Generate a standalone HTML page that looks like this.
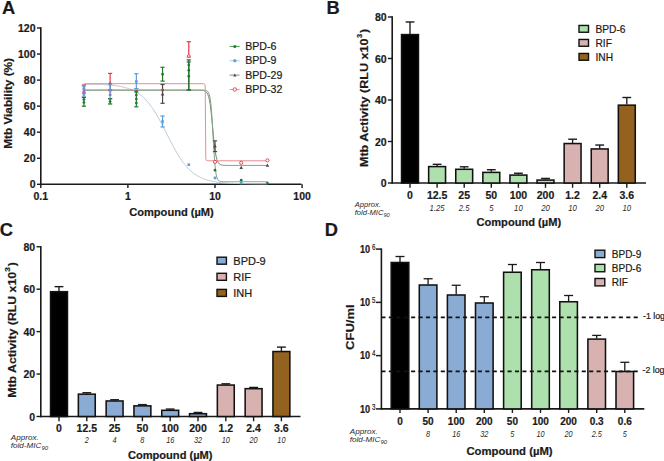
<!DOCTYPE html>
<html><head><meta charset="utf-8"><style>
html,body{margin:0;padding:0;background:#fff;}
svg{display:block;font-family:"Liberation Sans", sans-serif;}
text{stroke-width:0.2px;paint-order:stroke;}
text[font-style=italic]{stroke-width:0;}

</style></head><body>
<svg width="664" height="461" viewBox="0 0 664 461">
<rect width="664" height="461" fill="#fff"/>
<text x="2.10" y="13.80" font-size="18.3" font-weight="bold" font-style="normal" text-anchor="start" fill="#1a1a1a" stroke="#1a1a1a" >A</text>
<text x="326.60" y="14.00" font-size="18.3" font-weight="bold" font-style="normal" text-anchor="start" fill="#1a1a1a" stroke="#1a1a1a" >B</text>
<text x="-0.30" y="235.50" font-size="18.3" font-weight="bold" font-style="normal" text-anchor="start" fill="#1a1a1a" stroke="#1a1a1a" >C</text>
<text x="324.80" y="235.80" font-size="18.3" font-weight="bold" font-style="normal" text-anchor="start" fill="#1a1a1a" stroke="#1a1a1a" >D</text>
<line x1="40.80" y1="27.30" x2="40.80" y2="185.00" stroke="#1a1a1a" stroke-width="1.6" />
<line x1="40.00" y1="184.30" x2="301.50" y2="184.30" stroke="#1a1a1a" stroke-width="1.6" />
<line x1="37.00" y1="184.30" x2="40.80" y2="184.30" stroke="#1a1a1a" stroke-width="1.4" />
<text x="35.50" y="188.40" font-size="10.5" font-weight="bold" font-style="normal" text-anchor="end" fill="#1a1a1a" stroke="#1a1a1a" >0</text>
<line x1="37.00" y1="158.25" x2="40.80" y2="158.25" stroke="#1a1a1a" stroke-width="1.4" />
<text x="35.50" y="162.35" font-size="10.5" font-weight="bold" font-style="normal" text-anchor="end" fill="#1a1a1a" stroke="#1a1a1a" >20</text>
<line x1="37.00" y1="132.20" x2="40.80" y2="132.20" stroke="#1a1a1a" stroke-width="1.4" />
<text x="35.50" y="136.30" font-size="10.5" font-weight="bold" font-style="normal" text-anchor="end" fill="#1a1a1a" stroke="#1a1a1a" >40</text>
<line x1="37.00" y1="106.15" x2="40.80" y2="106.15" stroke="#1a1a1a" stroke-width="1.4" />
<text x="35.50" y="110.25" font-size="10.5" font-weight="bold" font-style="normal" text-anchor="end" fill="#1a1a1a" stroke="#1a1a1a" >60</text>
<line x1="37.00" y1="80.10" x2="40.80" y2="80.10" stroke="#1a1a1a" stroke-width="1.4" />
<text x="35.50" y="84.20" font-size="10.5" font-weight="bold" font-style="normal" text-anchor="end" fill="#1a1a1a" stroke="#1a1a1a" >80</text>
<line x1="37.00" y1="54.05" x2="40.80" y2="54.05" stroke="#1a1a1a" stroke-width="1.4" />
<text x="35.50" y="58.15" font-size="10.5" font-weight="bold" font-style="normal" text-anchor="end" fill="#1a1a1a" stroke="#1a1a1a" >100</text>
<line x1="37.00" y1="28.00" x2="40.80" y2="28.00" stroke="#1a1a1a" stroke-width="1.4" />
<text x="35.50" y="32.10" font-size="10.5" font-weight="bold" font-style="normal" text-anchor="end" fill="#1a1a1a" stroke="#1a1a1a" >120</text>
<line x1="40.80" y1="184.30" x2="40.80" y2="188.00" stroke="#1a1a1a" stroke-width="1.4" />
<text x="40.80" y="199.60" font-size="10.5" font-weight="bold" font-style="normal" text-anchor="middle" fill="#1a1a1a" stroke="#1a1a1a" >0.1</text>
<line x1="127.90" y1="184.30" x2="127.90" y2="188.00" stroke="#1a1a1a" stroke-width="1.4" />
<text x="127.90" y="199.60" font-size="10.5" font-weight="bold" font-style="normal" text-anchor="middle" fill="#1a1a1a" stroke="#1a1a1a" >1</text>
<line x1="215.00" y1="184.30" x2="215.00" y2="188.00" stroke="#1a1a1a" stroke-width="1.4" />
<text x="215.00" y="199.60" font-size="10.5" font-weight="bold" font-style="normal" text-anchor="middle" fill="#1a1a1a" stroke="#1a1a1a" >10</text>
<line x1="302.10" y1="184.30" x2="302.10" y2="188.00" stroke="#1a1a1a" stroke-width="1.4" />
<text x="302.10" y="199.60" font-size="10.5" font-weight="bold" font-style="normal" text-anchor="middle" fill="#1a1a1a" stroke="#1a1a1a" >100</text>
<text x="171.50" y="215.80" font-size="11.1" font-weight="bold" font-style="normal" text-anchor="middle" fill="#1a1a1a" stroke="#1a1a1a" >Compound (µM)</text>
<text transform="translate(12.0,103.4) rotate(-90) scale(1,0.86)" font-size="11.8" font-weight="bold" text-anchor="middle" fill="#1a1a1a" stroke="#1a1a1a">Mtb Viability (%)</text>
<path d="M83.90,84.15 L85.43,84.16 L86.96,84.18 L88.49,84.21 L90.02,84.23 L91.55,84.26 L93.08,84.29 L94.61,84.33 L96.14,84.37 L97.67,84.42 L99.20,84.47 L100.73,84.53 L102.26,84.60 L103.78,84.68 L105.31,84.76 L106.84,84.86 L108.37,84.97 L109.90,85.09 L111.43,85.23 L112.96,85.38 L114.49,85.55 L116.02,85.75 L117.55,85.97 L119.08,86.22 L120.61,86.50 L122.14,86.81 L123.67,87.16 L125.20,87.55 L126.73,87.99 L128.26,88.48 L129.79,89.03 L131.32,89.64 L132.84,90.32 L134.37,91.07 L135.90,91.91 L137.43,92.84 L138.96,93.87 L140.49,95.00 L142.02,96.25 L143.55,97.61 L145.08,99.10 L146.61,100.72 L148.14,102.48 L149.67,104.37 L151.20,106.41 L152.73,108.59 L154.26,110.91 L155.79,113.35 L157.32,115.93 L158.85,118.62 L160.38,121.41 L161.91,124.29 L163.43,127.24 L164.96,130.23 L166.49,133.26 L168.02,136.29 L169.55,139.30 L171.08,142.27 L172.61,145.18 L174.14,148.02 L175.67,150.75 L177.20,153.38 L178.73,155.89 L180.26,158.27 L181.79,160.52 L183.32,162.62 L184.85,164.58 L186.38,166.40 L187.91,168.08 L189.44,169.63 L190.97,171.05 L192.49,172.35 L194.02,173.54 L195.55,174.61 L197.08,175.58 L198.61,176.46 L200.14,177.26 L201.67,177.97 L203.20,178.62 L204.73,179.19 L206.26,179.71 L207.79,180.17 L209.32,180.58 L210.85,180.95 L212.38,181.28 L213.91,181.57 L215.44,181.83 L216.97,182.07 L218.50,182.27 L220.03,182.46 L221.55,182.62 L223.08,182.77 L224.61,182.90 L226.14,183.01 L227.67,183.11 L229.20,183.20 L230.73,183.28 L232.26,183.35 L233.79,183.42 L235.32,183.47 L236.85,183.52 L238.38,183.57 L239.91,183.61 L241.44,183.64 L242.97,183.67 L244.50,183.70 L246.03,183.72 L247.56,183.74 L249.09,183.76 L250.62,183.78 L252.14,183.79 L253.67,183.81 L255.20,183.82 L256.73,183.83 L258.26,183.84 L259.79,183.85 L261.32,183.85 L262.85,183.86 L264.38,183.87 L265.91,183.87 L267.44,183.87" fill="none" stroke="#bccbdb" stroke-width="1.0"/>
<path d="M83.90,90.13 L84.67,90.13 L85.43,90.13 L86.20,90.13 L86.96,90.13 L87.73,90.13 L88.49,90.13 L89.25,90.13 L90.02,90.13 L90.78,90.13 L91.55,90.13 L92.31,90.13 L93.08,90.13 L93.84,90.13 L94.61,90.13 L95.37,90.13 L96.14,90.13 L96.90,90.13 L97.67,90.13 L98.43,90.13 L99.20,90.13 L99.96,90.13 L100.73,90.13 L101.49,90.13 L102.26,90.13 L103.02,90.13 L103.78,90.13 L104.55,90.13 L105.31,90.13 L106.08,90.13 L106.84,90.13 L107.61,90.13 L108.37,90.13 L109.14,90.13 L109.90,90.13 L110.67,90.13 L111.43,90.13 L112.20,90.13 L112.96,90.13 L113.73,90.13 L114.49,90.13 L115.26,90.13 L116.02,90.13 L116.79,90.13 L117.55,90.13 L118.31,90.13 L119.08,90.13 L119.84,90.13 L120.61,90.13 L121.37,90.13 L122.14,90.13 L122.90,90.13 L123.67,90.13 L124.43,90.13 L125.20,90.13 L125.96,90.13 L126.73,90.13 L127.49,90.13 L128.26,90.13 L129.02,90.13 L129.79,90.13 L130.55,90.13 L131.32,90.13 L132.08,90.13 L132.84,90.13 L133.61,90.13 L134.37,90.13 L135.14,90.13 L135.90,90.13 L136.67,90.13 L137.43,90.13 L138.20,90.13 L138.96,90.13 L139.73,90.13 L140.49,90.13 L141.26,90.13 L142.02,90.13 L142.79,90.13 L143.55,90.13 L144.32,90.13 L145.08,90.13 L145.85,90.13 L146.61,90.13 L147.37,90.13 L148.14,90.13 L148.90,90.13 L149.67,90.13 L150.43,90.13 L151.20,90.13 L151.96,90.13 L152.73,90.13 L153.49,90.13 L154.26,90.13 L155.02,90.13 L155.79,90.13 L156.55,90.13 L157.32,90.13 L158.08,90.13 L158.85,90.13 L159.61,90.13 L160.38,90.13 L161.14,90.13 L161.91,90.13 L162.67,90.13 L163.43,90.13 L164.20,90.13 L164.96,90.13 L165.73,90.13 L166.49,90.13 L167.26,90.13 L168.02,90.13 L168.79,90.13 L169.55,90.13 L170.32,90.13 L171.08,90.13 L171.85,90.13 L172.61,90.13 L173.38,90.13 L174.14,90.13 L174.91,90.13 L175.67,90.13 L176.44,90.13 L177.20,90.13 L177.96,90.13 L178.73,90.13 L179.49,90.13 L180.26,90.13 L181.02,90.13 L181.79,90.13 L182.55,90.13 L183.32,90.13 L184.08,90.13 L184.85,90.13 L185.61,90.13 L186.38,90.13 L187.14,90.13 L187.91,90.13 L188.67,90.13 L189.44,90.13 L190.20,90.13 L190.97,90.13 L191.73,90.13 L192.49,90.13 L193.26,90.13 L194.02,90.13 L194.79,90.13 L195.55,90.13 L196.32,90.13 L197.08,90.14 L197.85,90.14 L198.61,90.15 L199.38,90.16 L200.14,90.18 L200.91,90.21 L201.67,90.26 L202.44,90.33 L203.20,90.44 L203.97,90.61 L204.73,90.87 L205.50,91.28 L206.26,91.91 L207.02,92.87 L207.79,94.32 L208.55,96.46 L209.32,99.57 L210.08,103.89 L210.85,109.60 L211.61,116.66 L212.38,124.70 L213.14,133.03 L213.91,140.86 L214.67,147.59 L215.44,152.93 L216.20,156.90 L216.97,159.73 L217.73,161.67 L218.50,162.97 L219.26,163.83 L220.03,164.39 L220.79,164.75 L221.55,164.99 L222.32,165.14 L223.08,165.24 L223.85,165.30 L224.61,165.34 L225.38,165.37 L226.14,165.38 L226.91,165.39 L227.67,165.40 L228.44,165.41 L229.20,165.41 L229.97,165.41 L230.73,165.41 L231.50,165.41 L232.26,165.41 L233.03,165.41 L233.79,165.41 L234.56,165.41 L235.32,165.41 L236.09,165.41 L236.85,165.41 L237.61,165.41 L238.38,165.41 L239.14,165.41 L239.91,165.41 L240.67,165.41 L241.44,165.41 L242.20,165.41 L242.97,165.41 L243.73,165.41 L244.50,165.41 L245.26,165.41 L246.03,165.41 L246.79,165.41 L247.56,165.41 L248.32,165.41 L249.09,165.41 L249.85,165.41 L250.62,165.41 L251.38,165.41 L252.14,165.41 L252.91,165.41 L253.67,165.41 L254.44,165.41 L255.20,165.41 L255.97,165.41 L256.73,165.41 L257.50,165.41 L258.26,165.41 L259.03,165.41 L259.79,165.41 L260.56,165.41 L261.32,165.41 L262.09,165.41 L262.85,165.41 L263.62,165.41 L264.38,165.41 L265.15,165.41 L265.91,165.41 L266.67,165.41 L267.44,165.41" fill="none" stroke="#808080" stroke-width="1.0"/>
<path d="M83.90,90.13 L84.67,90.13 L85.43,90.13 L86.20,90.13 L86.96,90.13 L87.73,90.13 L88.49,90.13 L89.25,90.13 L90.02,90.13 L90.78,90.13 L91.55,90.13 L92.31,90.13 L93.08,90.13 L93.84,90.13 L94.61,90.13 L95.37,90.13 L96.14,90.13 L96.90,90.13 L97.67,90.13 L98.43,90.13 L99.20,90.13 L99.96,90.13 L100.73,90.13 L101.49,90.13 L102.26,90.13 L103.02,90.13 L103.78,90.13 L104.55,90.13 L105.31,90.13 L106.08,90.13 L106.84,90.13 L107.61,90.13 L108.37,90.13 L109.14,90.13 L109.90,90.13 L110.67,90.13 L111.43,90.13 L112.20,90.13 L112.96,90.13 L113.73,90.13 L114.49,90.13 L115.26,90.13 L116.02,90.13 L116.79,90.13 L117.55,90.13 L118.31,90.13 L119.08,90.13 L119.84,90.13 L120.61,90.13 L121.37,90.13 L122.14,90.13 L122.90,90.13 L123.67,90.13 L124.43,90.13 L125.20,90.13 L125.96,90.13 L126.73,90.13 L127.49,90.13 L128.26,90.13 L129.02,90.13 L129.79,90.13 L130.55,90.13 L131.32,90.13 L132.08,90.13 L132.84,90.13 L133.61,90.13 L134.37,90.13 L135.14,90.13 L135.90,90.13 L136.67,90.13 L137.43,90.13 L138.20,90.13 L138.96,90.13 L139.73,90.13 L140.49,90.13 L141.26,90.13 L142.02,90.13 L142.79,90.13 L143.55,90.13 L144.32,90.13 L145.08,90.13 L145.85,90.13 L146.61,90.13 L147.37,90.13 L148.14,90.13 L148.90,90.13 L149.67,90.13 L150.43,90.13 L151.20,90.13 L151.96,90.13 L152.73,90.13 L153.49,90.13 L154.26,90.13 L155.02,90.13 L155.79,90.13 L156.55,90.13 L157.32,90.13 L158.08,90.13 L158.85,90.13 L159.61,90.13 L160.38,90.13 L161.14,90.13 L161.91,90.13 L162.67,90.13 L163.43,90.13 L164.20,90.13 L164.96,90.13 L165.73,90.13 L166.49,90.13 L167.26,90.13 L168.02,90.13 L168.79,90.13 L169.55,90.13 L170.32,90.13 L171.08,90.13 L171.85,90.13 L172.61,90.13 L173.38,90.13 L174.14,90.13 L174.91,90.13 L175.67,90.13 L176.44,90.13 L177.20,90.13 L177.96,90.13 L178.73,90.13 L179.49,90.13 L180.26,90.13 L181.02,90.13 L181.79,90.13 L182.55,90.13 L183.32,90.13 L184.08,90.13 L184.85,90.13 L185.61,90.13 L186.38,90.13 L187.14,90.13 L187.91,90.13 L188.67,90.13 L189.44,90.13 L190.20,90.13 L190.97,90.13 L191.73,90.13 L192.49,90.13 L193.26,90.13 L194.02,90.13 L194.79,90.13 L195.55,90.13 L196.32,90.13 L197.08,90.13 L197.85,90.13 L198.61,90.13 L199.38,90.13 L200.14,90.13 L200.91,90.14 L201.67,90.14 L202.44,90.15 L203.20,90.17 L203.97,90.20 L204.73,90.25 L205.50,90.36 L206.26,90.54 L207.02,90.89 L207.79,91.51 L208.55,92.63 L209.32,94.61 L210.08,98.03 L210.85,103.64 L211.61,112.20 L212.38,123.83 L213.14,137.42 L213.91,150.75 L214.67,161.76 L215.44,169.63 L216.20,174.70 L216.97,177.74 L217.73,179.50 L218.50,180.48 L219.26,181.03 L220.03,181.33 L220.79,181.50 L221.55,181.59 L222.32,181.64 L223.08,181.66 L223.85,181.68 L224.61,181.69 L225.38,181.69 L226.14,181.69 L226.91,181.69 L227.67,181.69 L228.44,181.69 L229.20,181.69 L229.97,181.69 L230.73,181.69 L231.50,181.69 L232.26,181.69 L233.03,181.69 L233.79,181.69 L234.56,181.69 L235.32,181.69 L236.09,181.69 L236.85,181.69 L237.61,181.69 L238.38,181.69 L239.14,181.69 L239.91,181.69 L240.67,181.69 L241.44,181.69 L242.20,181.69 L242.97,181.69 L243.73,181.69 L244.50,181.69 L245.26,181.69 L246.03,181.69 L246.79,181.69 L247.56,181.69 L248.32,181.69 L249.09,181.69 L249.85,181.69 L250.62,181.69 L251.38,181.69 L252.14,181.69 L252.91,181.69 L253.67,181.69 L254.44,181.69 L255.20,181.69 L255.97,181.69 L256.73,181.69 L257.50,181.69 L258.26,181.69 L259.03,181.69 L259.79,181.69 L260.56,181.69 L261.32,181.70 L262.09,181.70 L262.85,181.70 L263.62,181.70 L264.38,181.70 L265.15,181.70 L265.91,181.70 L266.67,181.70 L267.44,181.70" fill="none" stroke="#7fa57f" stroke-width="1.0"/>
<path d="M84.3,83.7 L203.3,83.7 Q205.2,83.7 205.2,85.8 L205.8,158.8 Q205.8,160.8 207.8,160.8 L267.8,160.8" fill="none" stroke="#ec8a8a" stroke-width="1.0"/>
<line x1="83.90" y1="85.00" x2="83.90" y2="93.00" stroke="#e03a44" stroke-width="1.2" />
<line x1="81.80" y1="85.00" x2="86.00" y2="85.00" stroke="#e03a44" stroke-width="1.2" />
<line x1="81.80" y1="93.00" x2="86.00" y2="93.00" stroke="#e03a44" stroke-width="1.2" />
<circle cx="83.90" cy="89.00" r="1.3" fill="#c85060"/>
<line x1="83.90" y1="86.00" x2="83.90" y2="97.00" stroke="#5b9be0" stroke-width="1.2" />
<line x1="81.80" y1="86.00" x2="86.00" y2="86.00" stroke="#5b9be0" stroke-width="1.2" />
<line x1="81.80" y1="97.00" x2="86.00" y2="97.00" stroke="#5b9be0" stroke-width="1.2" />
<rect x="82.60" y="87.20" width="2.6" height="2.6" fill="#5b9be0"/>
<rect x="82.60" y="93.20" width="2.6" height="2.6" fill="#5b9be0"/>
<circle cx="83.90" cy="91.60" r="1.5" fill="#a070b0"/>
<line x1="83.90" y1="97.50" x2="83.90" y2="106.20" stroke="#1f7a2a" stroke-width="1.2" />
<line x1="81.80" y1="97.50" x2="86.00" y2="97.50" stroke="#1f7a2a" stroke-width="1.2" />
<line x1="81.80" y1="106.20" x2="86.00" y2="106.20" stroke="#1f7a2a" stroke-width="1.2" />
<circle cx="83.90" cy="99.50" r="1.35" fill="#1f7a2a"/>
<circle cx="83.90" cy="102.50" r="1.35" fill="#1f7a2a"/>
<line x1="110.12" y1="73.40" x2="110.12" y2="90.00" stroke="#e03a44" stroke-width="1.2" />
<line x1="108.02" y1="73.40" x2="112.22" y2="73.40" stroke="#e03a44" stroke-width="1.2" />
<line x1="108.02" y1="90.00" x2="112.22" y2="90.00" stroke="#e03a44" stroke-width="1.2" />
<circle cx="110.12" cy="83.80" r="1.5" fill="#8a5050"/>
<line x1="110.12" y1="84.00" x2="110.12" y2="98.70" stroke="#5b9be0" stroke-width="1.2" />
<line x1="108.02" y1="84.00" x2="112.22" y2="84.00" stroke="#5b9be0" stroke-width="1.2" />
<line x1="108.02" y1="98.70" x2="112.22" y2="98.70" stroke="#5b9be0" stroke-width="1.2" />
<rect x="108.82" y="89.90" width="2.6" height="2.6" fill="#5b9be0"/>
<circle cx="110.12" cy="94.80" r="1.5" fill="#a070b0"/>
<line x1="110.12" y1="98.70" x2="110.12" y2="104.00" stroke="#1f7a2a" stroke-width="1.2" />
<line x1="108.02" y1="98.70" x2="112.22" y2="98.70" stroke="#1f7a2a" stroke-width="1.2" />
<line x1="108.02" y1="104.00" x2="112.22" y2="104.00" stroke="#1f7a2a" stroke-width="1.2" />
<circle cx="110.12" cy="101.60" r="1.35" fill="#1f7a2a"/>
<line x1="136.34" y1="73.70" x2="136.34" y2="88.60" stroke="#5b9be0" stroke-width="1.2" />
<line x1="134.24" y1="73.70" x2="138.44" y2="73.70" stroke="#5b9be0" stroke-width="1.2" />
<line x1="134.24" y1="88.60" x2="138.44" y2="88.60" stroke="#5b9be0" stroke-width="1.2" />
<rect x="135.04" y="80.20" width="2.6" height="2.6" fill="#5b9be0"/>
<circle cx="136.34" cy="91.20" r="1.4" fill="#c04050"/>
<line x1="136.34" y1="92.00" x2="136.34" y2="106.80" stroke="#1f7a2a" stroke-width="1.2" />
<line x1="134.24" y1="92.00" x2="138.44" y2="92.00" stroke="#1f7a2a" stroke-width="1.2" />
<line x1="134.24" y1="106.80" x2="138.44" y2="106.80" stroke="#1f7a2a" stroke-width="1.2" />
<circle cx="136.34" cy="95.00" r="1.35" fill="#1f7a2a"/>
<circle cx="136.34" cy="99.00" r="1.35" fill="#1f7a2a"/>
<circle cx="136.34" cy="103.00" r="1.35" fill="#1f7a2a"/>
<line x1="162.56" y1="67.30" x2="162.56" y2="81.10" stroke="#1f7a2a" stroke-width="1.2" />
<line x1="160.46" y1="67.30" x2="164.66" y2="67.30" stroke="#1f7a2a" stroke-width="1.2" />
<line x1="160.46" y1="81.10" x2="164.66" y2="81.10" stroke="#1f7a2a" stroke-width="1.2" />
<circle cx="162.56" cy="74.20" r="1.35" fill="#1f7a2a"/>
<line x1="162.56" y1="84.50" x2="162.56" y2="103.30" stroke="#4a4a4a" stroke-width="1.2" />
<line x1="160.46" y1="84.50" x2="164.66" y2="84.50" stroke="#4a4a4a" stroke-width="1.2" />
<line x1="160.46" y1="103.30" x2="164.66" y2="103.30" stroke="#4a4a4a" stroke-width="1.2" />
<circle cx="162.56" cy="90.00" r="1.5" fill="#b04a4a"/>
<path d="M162.56,92.20 L164.36,95.44 L160.76,95.44 Z" fill="#4a4a4a"/>
<line x1="162.56" y1="116.00" x2="162.56" y2="127.00" stroke="#5b9be0" stroke-width="1.2" />
<line x1="160.46" y1="116.00" x2="164.66" y2="116.00" stroke="#5b9be0" stroke-width="1.2" />
<line x1="160.46" y1="127.00" x2="164.66" y2="127.00" stroke="#5b9be0" stroke-width="1.2" />
<rect x="161.26" y="120.20" width="2.6" height="2.6" fill="#5b9be0"/>
<line x1="188.78" y1="41.70" x2="188.78" y2="57.00" stroke="#e03a44" stroke-width="1.2" />
<line x1="186.68" y1="41.70" x2="190.88" y2="41.70" stroke="#e03a44" stroke-width="1.2" />
<line x1="186.68" y1="57.00" x2="190.88" y2="57.00" stroke="#e03a44" stroke-width="1.2" />
<circle cx="188.78" cy="56.00" r="1.3" fill="white" stroke="#e03a44" stroke-width="0.9"/>
<line x1="188.78" y1="59.90" x2="188.78" y2="90.00" stroke="#4a4a4a" stroke-width="1.2" />
<line x1="186.68" y1="59.90" x2="190.88" y2="59.90" stroke="#4a4a4a" stroke-width="1.2" />
<line x1="186.68" y1="90.00" x2="190.88" y2="90.00" stroke="#4a4a4a" stroke-width="1.2" />
<line x1="188.78" y1="62.00" x2="188.78" y2="90.00" stroke="#1f7a2a" stroke-width="1.2" />
<line x1="186.68" y1="62.00" x2="190.88" y2="62.00" stroke="#1f7a2a" stroke-width="1.2" />
<line x1="186.68" y1="90.00" x2="190.88" y2="90.00" stroke="#1f7a2a" stroke-width="1.2" />
<circle cx="188.78" cy="65.00" r="1.35" fill="#1f7a2a"/>
<circle cx="188.78" cy="70.30" r="1.35" fill="#1f7a2a"/>
<circle cx="188.78" cy="76.20" r="1.35" fill="#1f7a2a"/>
<rect x="187.48" y="163.40" width="2.6" height="2.6" fill="#5b9be0"/>
<line x1="215.00" y1="140.90" x2="215.00" y2="151.60" stroke="#4a4a4a" stroke-width="1.2" />
<line x1="212.90" y1="140.90" x2="217.10" y2="140.90" stroke="#4a4a4a" stroke-width="1.2" />
<line x1="212.90" y1="151.60" x2="217.10" y2="151.60" stroke="#4a4a4a" stroke-width="1.2" />
<path d="M215.00,144.20 L216.80,147.44 L213.20,147.44 Z" fill="#4a4a4a"/>
<circle cx="215.00" cy="161.90" r="1.6" fill="white" stroke="#e03a44" stroke-width="0.9"/>
<circle cx="215.00" cy="170.20" r="1.35" fill="#1f7a2a"/>
<rect x="213.70" y="176.60" width="2.6" height="2.6" fill="#5b9be0"/>
<circle cx="241.22" cy="162.80" r="1.6" fill="white" stroke="#e03a44" stroke-width="0.9"/>
<path d="M241.22,165.80 L243.02,169.04 L239.42,169.04 Z" fill="#4a4a4a"/>
<circle cx="241.22" cy="180.20" r="1.35" fill="#1f7a2a"/>
<rect x="239.92" y="181.70" width="2.6" height="2.6" fill="#5b9be0"/>
<circle cx="267.44" cy="160.40" r="1.6" fill="white" stroke="#e03a44" stroke-width="0.9"/>
<path d="M267.44,163.40 L269.24,166.64 L265.64,166.64 Z" fill="#4a4a4a"/>
<circle cx="267.44" cy="183.10" r="1.35" fill="#1f7a2a"/>
<line x1="229.60" y1="46.40" x2="239.60" y2="46.40" stroke="#4a9a50" stroke-width="1.0" />
<circle cx="234.80" cy="46.40" r="1.5" fill="#1f7a2a"/>
<text x="245.20" y="50.10" font-size="10.6" font-weight="normal" font-style="normal" text-anchor="start" fill="#1a1a1a" stroke="#1a1a1a" >BPD-6</text>
<line x1="229.60" y1="60.75" x2="239.60" y2="60.75" stroke="#a9c9ea" stroke-width="1.0" />
<rect x="233.40" y="59.35" width="2.8" height="2.8" fill="#5b9be0"/>
<text x="245.20" y="64.45" font-size="10.6" font-weight="normal" font-style="normal" text-anchor="start" fill="#1a1a1a" stroke="#1a1a1a" >BPD-9</text>
<line x1="229.60" y1="75.10" x2="239.60" y2="75.10" stroke="#888" stroke-width="1.0" />
<path d="M234.80,73.50 L236.40,76.38 L233.20,76.38 Z" fill="#4a4a4a"/>
<text x="245.20" y="78.80" font-size="10.6" font-weight="normal" font-style="normal" text-anchor="start" fill="#1a1a1a" stroke="#1a1a1a" >BPD-29</text>
<line x1="229.60" y1="89.45" x2="239.60" y2="89.45" stroke="#ee8888" stroke-width="1.0" />
<circle cx="234.80" cy="89.45" r="1.7" fill="white" stroke="#e03a44" stroke-width="0.9"/>
<text x="245.20" y="93.15" font-size="10.6" font-weight="normal" font-style="normal" text-anchor="start" fill="#1a1a1a" stroke="#1a1a1a" >BPD-32</text>
<line x1="392.20" y1="16.30" x2="392.20" y2="183.80" stroke="#1a1a1a" stroke-width="1.6" />
<line x1="391.50" y1="183.00" x2="646.00" y2="183.00" stroke="#1a1a1a" stroke-width="1.6" />
<line x1="387.90" y1="183.00" x2="392.20" y2="183.00" stroke="#1a1a1a" stroke-width="1.4" />
<text x="386.60" y="187.10" font-size="10.5" font-weight="bold" font-style="normal" text-anchor="end" fill="#1a1a1a" stroke="#1a1a1a" >0</text>
<line x1="387.90" y1="141.50" x2="392.20" y2="141.50" stroke="#1a1a1a" stroke-width="1.4" />
<text x="386.60" y="145.60" font-size="10.5" font-weight="bold" font-style="normal" text-anchor="end" fill="#1a1a1a" stroke="#1a1a1a" >20</text>
<line x1="387.90" y1="100.00" x2="392.20" y2="100.00" stroke="#1a1a1a" stroke-width="1.4" />
<text x="386.60" y="104.10" font-size="10.5" font-weight="bold" font-style="normal" text-anchor="end" fill="#1a1a1a" stroke="#1a1a1a" >40</text>
<line x1="387.90" y1="58.50" x2="392.20" y2="58.50" stroke="#1a1a1a" stroke-width="1.4" />
<text x="386.60" y="62.60" font-size="10.5" font-weight="bold" font-style="normal" text-anchor="end" fill="#1a1a1a" stroke="#1a1a1a" >60</text>
<line x1="387.90" y1="17.00" x2="392.20" y2="17.00" stroke="#1a1a1a" stroke-width="1.4" />
<text x="386.60" y="21.10" font-size="10.5" font-weight="bold" font-style="normal" text-anchor="end" fill="#1a1a1a" stroke="#1a1a1a" >80</text>
<line x1="410.00" y1="34.01" x2="410.00" y2="21.98" stroke="#1a1a1a" stroke-width="1.35" />
<line x1="405.60" y1="21.98" x2="414.40" y2="21.98" stroke="#1a1a1a" stroke-width="1.4" />
<rect x="401.55" y="34.61" width="16.90" height="148.39" fill="#000" stroke="#111" stroke-width="1.55"/>
<line x1="410.00" y1="183.00" x2="410.00" y2="187.80" stroke="#1a1a1a" stroke-width="1.4" />
<text x="410.00" y="198.80" font-size="10.5" font-weight="bold" font-style="normal" text-anchor="middle" fill="#1a1a1a" stroke="#1a1a1a" >0</text>
<text transform="translate(410.00,211.40) scale(0.9,1)" font-size="8.6" font-style="italic" text-anchor="middle" fill="#2a2a2a" stroke="#2a2a2a"></text>
<line x1="437.10" y1="165.99" x2="437.10" y2="164.32" stroke="#1a1a1a" stroke-width="1.35" />
<line x1="432.70" y1="164.32" x2="441.50" y2="164.32" stroke="#1a1a1a" stroke-width="1.4" />
<rect x="428.65" y="166.59" width="16.90" height="16.41" fill="#aee0ad" stroke="#111" stroke-width="1.55"/>
<line x1="437.10" y1="183.00" x2="437.10" y2="187.80" stroke="#1a1a1a" stroke-width="1.4" />
<text x="437.10" y="198.80" font-size="10.5" font-weight="bold" font-style="normal" text-anchor="middle" fill="#1a1a1a" stroke="#1a1a1a" >12.5</text>
<text transform="translate(437.10,211.40) scale(0.9,1)" font-size="8.6" font-style="italic" text-anchor="middle" fill="#2a2a2a" stroke="#2a2a2a">1.25</text>
<line x1="464.20" y1="168.68" x2="464.20" y2="166.81" stroke="#1a1a1a" stroke-width="1.35" />
<line x1="459.80" y1="166.81" x2="468.60" y2="166.81" stroke="#1a1a1a" stroke-width="1.4" />
<rect x="455.75" y="169.28" width="16.90" height="13.72" fill="#aee0ad" stroke="#111" stroke-width="1.55"/>
<line x1="464.20" y1="183.00" x2="464.20" y2="187.80" stroke="#1a1a1a" stroke-width="1.4" />
<text x="464.20" y="198.80" font-size="10.5" font-weight="bold" font-style="normal" text-anchor="middle" fill="#1a1a1a" stroke="#1a1a1a" >25</text>
<text transform="translate(464.20,211.40) scale(0.9,1)" font-size="8.6" font-style="italic" text-anchor="middle" fill="#2a2a2a" stroke="#2a2a2a">2.5</text>
<line x1="491.30" y1="171.79" x2="491.30" y2="169.72" stroke="#1a1a1a" stroke-width="1.35" />
<line x1="486.90" y1="169.72" x2="495.70" y2="169.72" stroke="#1a1a1a" stroke-width="1.4" />
<rect x="482.85" y="172.39" width="16.90" height="10.61" fill="#aee0ad" stroke="#111" stroke-width="1.55"/>
<line x1="491.30" y1="183.00" x2="491.30" y2="187.80" stroke="#1a1a1a" stroke-width="1.4" />
<text x="491.30" y="198.80" font-size="10.5" font-weight="bold" font-style="normal" text-anchor="middle" fill="#1a1a1a" stroke="#1a1a1a" >50</text>
<text transform="translate(491.30,211.40) scale(0.9,1)" font-size="8.6" font-style="italic" text-anchor="middle" fill="#2a2a2a" stroke="#2a2a2a">5</text>
<line x1="518.40" y1="174.49" x2="518.40" y2="173.25" stroke="#1a1a1a" stroke-width="1.35" />
<line x1="514.00" y1="173.25" x2="522.80" y2="173.25" stroke="#1a1a1a" stroke-width="1.4" />
<rect x="509.95" y="175.09" width="16.90" height="7.91" fill="#aee0ad" stroke="#111" stroke-width="1.55"/>
<line x1="518.40" y1="183.00" x2="518.40" y2="187.80" stroke="#1a1a1a" stroke-width="1.4" />
<text x="518.40" y="198.80" font-size="10.5" font-weight="bold" font-style="normal" text-anchor="middle" fill="#1a1a1a" stroke="#1a1a1a" >100</text>
<text transform="translate(518.40,211.40) scale(0.9,1)" font-size="8.6" font-style="italic" text-anchor="middle" fill="#2a2a2a" stroke="#2a2a2a">10</text>
<line x1="545.50" y1="179.47" x2="545.50" y2="178.44" stroke="#1a1a1a" stroke-width="1.35" />
<line x1="541.10" y1="178.44" x2="549.90" y2="178.44" stroke="#1a1a1a" stroke-width="1.4" />
<rect x="537.05" y="180.07" width="16.90" height="2.93" fill="#aee0ad" stroke="#111" stroke-width="1.55"/>
<line x1="545.50" y1="183.00" x2="545.50" y2="187.80" stroke="#1a1a1a" stroke-width="1.4" />
<text x="545.50" y="198.80" font-size="10.5" font-weight="bold" font-style="normal" text-anchor="middle" fill="#1a1a1a" stroke="#1a1a1a" >200</text>
<text transform="translate(545.50,211.40) scale(0.9,1)" font-size="8.6" font-style="italic" text-anchor="middle" fill="#2a2a2a" stroke="#2a2a2a">20</text>
<line x1="572.60" y1="142.95" x2="572.60" y2="139.22" stroke="#1a1a1a" stroke-width="1.35" />
<line x1="568.20" y1="139.22" x2="577.00" y2="139.22" stroke="#1a1a1a" stroke-width="1.4" />
<rect x="564.15" y="143.55" width="16.90" height="39.45" fill="#d8b2b0" stroke="#111" stroke-width="1.55"/>
<line x1="572.60" y1="183.00" x2="572.60" y2="187.80" stroke="#1a1a1a" stroke-width="1.4" />
<text x="572.60" y="198.80" font-size="10.5" font-weight="bold" font-style="normal" text-anchor="middle" fill="#1a1a1a" stroke="#1a1a1a" >1.2</text>
<text transform="translate(572.60,211.40) scale(0.9,1)" font-size="8.6" font-style="italic" text-anchor="middle" fill="#2a2a2a" stroke="#2a2a2a">10</text>
<line x1="599.70" y1="148.35" x2="599.70" y2="145.03" stroke="#1a1a1a" stroke-width="1.35" />
<line x1="595.30" y1="145.03" x2="604.10" y2="145.03" stroke="#1a1a1a" stroke-width="1.4" />
<rect x="591.25" y="148.95" width="16.90" height="34.05" fill="#d8b2b0" stroke="#111" stroke-width="1.55"/>
<line x1="599.70" y1="183.00" x2="599.70" y2="187.80" stroke="#1a1a1a" stroke-width="1.4" />
<text x="599.70" y="198.80" font-size="10.5" font-weight="bold" font-style="normal" text-anchor="middle" fill="#1a1a1a" stroke="#1a1a1a" >2.4</text>
<text transform="translate(599.70,211.40) scale(0.9,1)" font-size="8.6" font-style="italic" text-anchor="middle" fill="#2a2a2a" stroke="#2a2a2a">20</text>
<line x1="626.80" y1="104.56" x2="626.80" y2="97.51" stroke="#1a1a1a" stroke-width="1.35" />
<line x1="622.40" y1="97.51" x2="631.20" y2="97.51" stroke="#1a1a1a" stroke-width="1.4" />
<rect x="618.35" y="105.16" width="16.90" height="77.84" fill="#94621f" stroke="#111" stroke-width="1.55"/>
<line x1="626.80" y1="183.00" x2="626.80" y2="187.80" stroke="#1a1a1a" stroke-width="1.4" />
<text x="626.80" y="198.80" font-size="10.5" font-weight="bold" font-style="normal" text-anchor="middle" fill="#1a1a1a" stroke="#1a1a1a" >3.6</text>
<text transform="translate(626.80,211.40) scale(0.9,1)" font-size="8.6" font-style="italic" text-anchor="middle" fill="#2a2a2a" stroke="#2a2a2a">10</text>
<text x="518.80" y="226.40" font-size="11.1" font-weight="bold" font-style="normal" text-anchor="middle" fill="#1a1a1a" stroke="#1a1a1a" >Compound (µM)</text>
<line x1="40.80" y1="246.05" x2="40.80" y2="417.30" stroke="#1a1a1a" stroke-width="1.6" />
<line x1="40.10" y1="416.50" x2="300.50" y2="416.50" stroke="#1a1a1a" stroke-width="1.6" />
<line x1="36.50" y1="416.50" x2="40.80" y2="416.50" stroke="#1a1a1a" stroke-width="1.4" />
<text x="35.20" y="420.60" font-size="10.5" font-weight="bold" font-style="normal" text-anchor="end" fill="#1a1a1a" stroke="#1a1a1a" >0</text>
<line x1="36.50" y1="374.06" x2="40.80" y2="374.06" stroke="#1a1a1a" stroke-width="1.4" />
<text x="35.20" y="378.16" font-size="10.5" font-weight="bold" font-style="normal" text-anchor="end" fill="#1a1a1a" stroke="#1a1a1a" >20</text>
<line x1="36.50" y1="331.62" x2="40.80" y2="331.62" stroke="#1a1a1a" stroke-width="1.4" />
<text x="35.20" y="335.73" font-size="10.5" font-weight="bold" font-style="normal" text-anchor="end" fill="#1a1a1a" stroke="#1a1a1a" >40</text>
<line x1="36.50" y1="289.19" x2="40.80" y2="289.19" stroke="#1a1a1a" stroke-width="1.4" />
<text x="35.20" y="293.29" font-size="10.5" font-weight="bold" font-style="normal" text-anchor="end" fill="#1a1a1a" stroke="#1a1a1a" >60</text>
<line x1="36.50" y1="246.75" x2="40.80" y2="246.75" stroke="#1a1a1a" stroke-width="1.4" />
<text x="35.20" y="250.85" font-size="10.5" font-weight="bold" font-style="normal" text-anchor="end" fill="#1a1a1a" stroke="#1a1a1a" >80</text>
<line x1="59.00" y1="291.10" x2="59.00" y2="286.64" stroke="#1a1a1a" stroke-width="1.35" />
<line x1="54.60" y1="286.64" x2="63.40" y2="286.64" stroke="#1a1a1a" stroke-width="1.4" />
<rect x="50.55" y="291.70" width="16.90" height="124.80" fill="#000" stroke="#111" stroke-width="1.55"/>
<line x1="59.00" y1="416.50" x2="59.00" y2="421.30" stroke="#1a1a1a" stroke-width="1.4" />
<text x="59.00" y="432.30" font-size="10.5" font-weight="bold" font-style="normal" text-anchor="middle" fill="#1a1a1a" stroke="#1a1a1a" >0</text>
<text transform="translate(59.00,443.10) scale(0.85,1)" font-size="8.6" font-style="italic" text-anchor="middle" fill="#2a2a2a" stroke="#2a2a2a"></text>
<line x1="86.80" y1="393.58" x2="86.80" y2="392.74" stroke="#1a1a1a" stroke-width="1.35" />
<line x1="82.40" y1="392.74" x2="91.20" y2="392.74" stroke="#1a1a1a" stroke-width="1.4" />
<rect x="78.35" y="394.18" width="16.90" height="22.32" fill="#8aabd4" stroke="#111" stroke-width="1.55"/>
<line x1="86.80" y1="416.50" x2="86.80" y2="421.30" stroke="#1a1a1a" stroke-width="1.4" />
<text x="86.80" y="432.30" font-size="10.5" font-weight="bold" font-style="normal" text-anchor="middle" fill="#1a1a1a" stroke="#1a1a1a" >12.5</text>
<text transform="translate(86.80,443.10) scale(0.85,1)" font-size="8.6" font-style="italic" text-anchor="middle" fill="#2a2a2a" stroke="#2a2a2a">2</text>
<line x1="114.60" y1="400.37" x2="114.60" y2="399.74" stroke="#1a1a1a" stroke-width="1.35" />
<line x1="110.20" y1="399.74" x2="119.00" y2="399.74" stroke="#1a1a1a" stroke-width="1.4" />
<rect x="106.15" y="400.97" width="16.90" height="15.53" fill="#8aabd4" stroke="#111" stroke-width="1.55"/>
<line x1="114.60" y1="416.50" x2="114.60" y2="421.30" stroke="#1a1a1a" stroke-width="1.4" />
<text x="114.60" y="432.30" font-size="10.5" font-weight="bold" font-style="normal" text-anchor="middle" fill="#1a1a1a" stroke="#1a1a1a" >25</text>
<text transform="translate(114.60,443.10) scale(0.85,1)" font-size="8.6" font-style="italic" text-anchor="middle" fill="#2a2a2a" stroke="#2a2a2a">4</text>
<line x1="142.40" y1="405.25" x2="142.40" y2="404.62" stroke="#1a1a1a" stroke-width="1.35" />
<line x1="138.00" y1="404.62" x2="146.80" y2="404.62" stroke="#1a1a1a" stroke-width="1.4" />
<rect x="133.95" y="405.85" width="16.90" height="10.65" fill="#8aabd4" stroke="#111" stroke-width="1.55"/>
<line x1="142.40" y1="416.50" x2="142.40" y2="421.30" stroke="#1a1a1a" stroke-width="1.4" />
<text x="142.40" y="432.30" font-size="10.5" font-weight="bold" font-style="normal" text-anchor="middle" fill="#1a1a1a" stroke="#1a1a1a" >50</text>
<text transform="translate(142.40,443.10) scale(0.85,1)" font-size="8.6" font-style="italic" text-anchor="middle" fill="#2a2a2a" stroke="#2a2a2a">8</text>
<line x1="170.20" y1="409.71" x2="170.20" y2="409.07" stroke="#1a1a1a" stroke-width="1.35" />
<line x1="165.80" y1="409.07" x2="174.60" y2="409.07" stroke="#1a1a1a" stroke-width="1.4" />
<rect x="161.75" y="410.31" width="16.90" height="6.19" fill="#8aabd4" stroke="#111" stroke-width="1.55"/>
<line x1="170.20" y1="416.50" x2="170.20" y2="421.30" stroke="#1a1a1a" stroke-width="1.4" />
<text x="170.20" y="432.30" font-size="10.5" font-weight="bold" font-style="normal" text-anchor="middle" fill="#1a1a1a" stroke="#1a1a1a" >100</text>
<text transform="translate(170.20,443.10) scale(0.85,1)" font-size="8.6" font-style="italic" text-anchor="middle" fill="#2a2a2a" stroke="#2a2a2a">16</text>
<line x1="198.00" y1="413.11" x2="198.00" y2="412.47" stroke="#1a1a1a" stroke-width="1.35" />
<line x1="193.60" y1="412.47" x2="202.40" y2="412.47" stroke="#1a1a1a" stroke-width="1.4" />
<rect x="189.55" y="413.71" width="16.90" height="2.79" fill="#8aabd4" stroke="#111" stroke-width="1.55"/>
<line x1="198.00" y1="416.50" x2="198.00" y2="421.30" stroke="#1a1a1a" stroke-width="1.4" />
<text x="198.00" y="432.30" font-size="10.5" font-weight="bold" font-style="normal" text-anchor="middle" fill="#1a1a1a" stroke="#1a1a1a" >200</text>
<text transform="translate(198.00,443.10) scale(0.85,1)" font-size="8.6" font-style="italic" text-anchor="middle" fill="#2a2a2a" stroke="#2a2a2a">32</text>
<line x1="225.80" y1="384.46" x2="225.80" y2="383.82" stroke="#1a1a1a" stroke-width="1.35" />
<line x1="221.40" y1="383.82" x2="230.20" y2="383.82" stroke="#1a1a1a" stroke-width="1.4" />
<rect x="217.35" y="385.06" width="16.90" height="31.44" fill="#d8b2b0" stroke="#111" stroke-width="1.55"/>
<line x1="225.80" y1="416.50" x2="225.80" y2="421.30" stroke="#1a1a1a" stroke-width="1.4" />
<text x="225.80" y="432.30" font-size="10.5" font-weight="bold" font-style="normal" text-anchor="middle" fill="#1a1a1a" stroke="#1a1a1a" >1.2</text>
<text transform="translate(225.80,443.10) scale(0.85,1)" font-size="8.6" font-style="italic" text-anchor="middle" fill="#2a2a2a" stroke="#2a2a2a">10</text>
<line x1="253.60" y1="388.07" x2="253.60" y2="387.43" stroke="#1a1a1a" stroke-width="1.35" />
<line x1="249.20" y1="387.43" x2="258.00" y2="387.43" stroke="#1a1a1a" stroke-width="1.4" />
<rect x="245.15" y="388.67" width="16.90" height="27.83" fill="#d8b2b0" stroke="#111" stroke-width="1.55"/>
<line x1="253.60" y1="416.50" x2="253.60" y2="421.30" stroke="#1a1a1a" stroke-width="1.4" />
<text x="253.60" y="432.30" font-size="10.5" font-weight="bold" font-style="normal" text-anchor="middle" fill="#1a1a1a" stroke="#1a1a1a" >2.4</text>
<text transform="translate(253.60,443.10) scale(0.85,1)" font-size="8.6" font-style="italic" text-anchor="middle" fill="#2a2a2a" stroke="#2a2a2a">20</text>
<line x1="281.40" y1="350.93" x2="281.40" y2="347.11" stroke="#1a1a1a" stroke-width="1.35" />
<line x1="277.00" y1="347.11" x2="285.80" y2="347.11" stroke="#1a1a1a" stroke-width="1.4" />
<rect x="272.95" y="351.53" width="16.90" height="64.97" fill="#94621f" stroke="#111" stroke-width="1.55"/>
<line x1="281.40" y1="416.50" x2="281.40" y2="421.30" stroke="#1a1a1a" stroke-width="1.4" />
<text x="281.40" y="432.30" font-size="10.5" font-weight="bold" font-style="normal" text-anchor="middle" fill="#1a1a1a" stroke="#1a1a1a" >3.6</text>
<text transform="translate(281.40,443.10) scale(0.85,1)" font-size="8.6" font-style="italic" text-anchor="middle" fill="#2a2a2a" stroke="#2a2a2a">10</text>
<text x="170.20" y="458.60" font-size="11.1" font-weight="bold" font-style="normal" text-anchor="middle" fill="#1a1a1a" stroke="#1a1a1a" >Compound (µM)</text>
<text transform="translate(368.0,97.9) rotate(-90) scale(1,0.93)" font-size="12.55" font-weight="bold" text-anchor="middle" fill="#1a1a1a" stroke="#1a1a1a">Mtb Activity (RLU x10<tspan font-size="7.6" dy="-6.45" dx="0.5">3</tspan><tspan dy="6.45" dx="0.9">)</tspan></text>
<text transform="translate(16.4,330.0) rotate(-90) scale(1,0.93)" font-size="12.3" font-weight="bold" text-anchor="middle" fill="#1a1a1a" stroke="#1a1a1a">Mtb Activity (RLU x10<tspan font-size="8.3" dy="-7.1" dx="0.3">3</tspan><tspan dy="7.1" dx="0.7">)</tspan></text>
<text x="354.7" y="206.9" font-size="7.6" font-style="italic" fill="#2a2a2a" stroke="#2a2a2a">Approx.</text>
<text x="354.7" y="214.7" font-size="7.6" font-style="italic" fill="#2a2a2a" stroke="#2a2a2a">fold-MIC<tspan font-size="5.62" dy="2">90</tspan></text>
<text x="10.8" y="440.2" font-size="8.1" font-style="italic" fill="#2a2a2a" stroke="#2a2a2a">Approx.</text>
<text x="10.8" y="448.2" font-size="8.1" font-style="italic" fill="#2a2a2a" stroke="#2a2a2a">fold-MIC<tspan font-size="5.99" dy="2">90</tspan></text>
<text x="349.8" y="433.8" font-size="8.1" font-style="italic" fill="#2a2a2a" stroke="#2a2a2a">Approx.</text>
<text x="349.8" y="442.4" font-size="8.1" font-style="italic" fill="#2a2a2a" stroke="#2a2a2a">fold-MIC<tspan font-size="5.99" dy="2">90</tspan></text>
<rect x="579.00" y="25.45" width="9.50" height="6.80" fill="#aee0ad" stroke="#111" stroke-width="1.4"/>
<text x="595.50" y="32.52" font-size="10.2" font-weight="normal" font-style="normal" text-anchor="start" fill="#1a1a1a" stroke="#1a1a1a" >BPD-6</text>
<rect x="579.00" y="39.45" width="9.50" height="6.80" fill="#d8b2b0" stroke="#111" stroke-width="1.4"/>
<text x="595.50" y="46.52" font-size="10.2" font-weight="normal" font-style="normal" text-anchor="start" fill="#1a1a1a" stroke="#1a1a1a" >RIF</text>
<rect x="579.00" y="53.45" width="9.50" height="6.80" fill="#94621f" stroke="#111" stroke-width="1.4"/>
<text x="595.50" y="60.52" font-size="10.2" font-weight="normal" font-style="normal" text-anchor="start" fill="#1a1a1a" stroke="#1a1a1a" >INH</text>
<rect x="217.00" y="257.20" width="9.40" height="7.00" fill="#8aabd4" stroke="#111" stroke-width="1.4"/>
<text x="233.30" y="264.66" font-size="11.0" font-weight="normal" font-style="normal" text-anchor="start" fill="#1a1a1a" stroke="#1a1a1a" >BPD-9</text>
<rect x="217.00" y="273.30" width="9.40" height="7.00" fill="#d8b2b0" stroke="#111" stroke-width="1.4"/>
<text x="233.30" y="280.76" font-size="11.0" font-weight="normal" font-style="normal" text-anchor="start" fill="#1a1a1a" stroke="#1a1a1a" >RIF</text>
<rect x="217.00" y="289.40" width="9.40" height="7.00" fill="#94621f" stroke="#111" stroke-width="1.4"/>
<text x="233.30" y="296.86" font-size="11.0" font-weight="normal" font-style="normal" text-anchor="start" fill="#1a1a1a" stroke="#1a1a1a" >INH</text>
<line x1="381.40" y1="248.40" x2="381.40" y2="409.70" stroke="#1a1a1a" stroke-width="1.6" />
<line x1="380.70" y1="408.90" x2="644.30" y2="408.90" stroke="#1a1a1a" stroke-width="1.6" />
<line x1="375.90" y1="408.90" x2="381.40" y2="408.90" stroke="#1a1a1a" stroke-width="1.5" />
<text transform="translate(370.10,412.60) scale(0.88,1)" font-size="10.4" font-weight="bold" text-anchor="end" fill="#1a1a1a" stroke="#1a1a1a">10</text>
<text transform="translate(372.00,409.50) scale(0.72,1)" font-size="8.6" font-weight="normal" text-anchor="start" fill="#1a1a1a" stroke="#1a1a1a">3</text>
<line x1="375.90" y1="355.63" x2="381.40" y2="355.63" stroke="#1a1a1a" stroke-width="1.5" />
<text transform="translate(370.10,359.33) scale(0.88,1)" font-size="10.4" font-weight="bold" text-anchor="end" fill="#1a1a1a" stroke="#1a1a1a">10</text>
<text transform="translate(372.00,356.23) scale(0.72,1)" font-size="8.6" font-weight="normal" text-anchor="start" fill="#1a1a1a" stroke="#1a1a1a">4</text>
<line x1="375.90" y1="302.37" x2="381.40" y2="302.37" stroke="#1a1a1a" stroke-width="1.5" />
<text transform="translate(370.10,306.07) scale(0.88,1)" font-size="10.4" font-weight="bold" text-anchor="end" fill="#1a1a1a" stroke="#1a1a1a">10</text>
<text transform="translate(372.00,302.97) scale(0.72,1)" font-size="8.6" font-weight="normal" text-anchor="start" fill="#1a1a1a" stroke="#1a1a1a">5</text>
<line x1="375.90" y1="249.10" x2="381.40" y2="249.10" stroke="#1a1a1a" stroke-width="1.5" />
<text transform="translate(370.10,252.80) scale(0.88,1)" font-size="10.4" font-weight="bold" text-anchor="end" fill="#1a1a1a" stroke="#1a1a1a">10</text>
<text transform="translate(372.00,249.70) scale(0.72,1)" font-size="8.6" font-weight="normal" text-anchor="start" fill="#1a1a1a" stroke="#1a1a1a">6</text>
<line x1="400.00" y1="262.00" x2="400.00" y2="256.50" stroke="#1a1a1a" stroke-width="1.3" />
<line x1="395.50" y1="256.50" x2="404.50" y2="256.50" stroke="#1a1a1a" stroke-width="1.3" />
<rect x="391.20" y="262.50" width="17.60" height="146.40" fill="#000" stroke="#111" stroke-width="1.55"/>
<line x1="400.00" y1="408.90" x2="400.00" y2="412.90" stroke="#1a1a1a" stroke-width="1.4" />
<text x="400.00" y="424.80" font-size="10.0" font-weight="bold" font-style="normal" text-anchor="middle" fill="#1a1a1a" stroke="#1a1a1a" >0</text>
<text transform="translate(400.00,437.30) scale(0.85,1)" font-size="8.6" font-style="italic" text-anchor="middle" fill="#2a2a2a" stroke="#2a2a2a"></text>
<line x1="428.10" y1="284.50" x2="428.10" y2="278.75" stroke="#1a1a1a" stroke-width="1.3" />
<line x1="423.60" y1="278.75" x2="432.60" y2="278.75" stroke="#1a1a1a" stroke-width="1.3" />
<rect x="419.30" y="285.00" width="17.60" height="123.90" fill="#8aabd4" stroke="#111" stroke-width="1.55"/>
<line x1="428.10" y1="408.90" x2="428.10" y2="412.90" stroke="#1a1a1a" stroke-width="1.4" />
<text x="428.10" y="424.80" font-size="10.0" font-weight="bold" font-style="normal" text-anchor="middle" fill="#1a1a1a" stroke="#1a1a1a" >50</text>
<text transform="translate(428.10,437.30) scale(0.85,1)" font-size="8.6" font-style="italic" text-anchor="middle" fill="#2a2a2a" stroke="#2a2a2a">8</text>
<line x1="456.20" y1="294.50" x2="456.20" y2="285.25" stroke="#1a1a1a" stroke-width="1.3" />
<line x1="451.70" y1="285.25" x2="460.70" y2="285.25" stroke="#1a1a1a" stroke-width="1.3" />
<rect x="447.40" y="295.00" width="17.60" height="113.90" fill="#8aabd4" stroke="#111" stroke-width="1.55"/>
<line x1="456.20" y1="408.90" x2="456.20" y2="412.90" stroke="#1a1a1a" stroke-width="1.4" />
<text x="456.20" y="424.80" font-size="10.0" font-weight="bold" font-style="normal" text-anchor="middle" fill="#1a1a1a" stroke="#1a1a1a" >100</text>
<text transform="translate(456.20,437.30) scale(0.85,1)" font-size="8.6" font-style="italic" text-anchor="middle" fill="#2a2a2a" stroke="#2a2a2a">16</text>
<line x1="484.30" y1="302.50" x2="484.30" y2="296.75" stroke="#1a1a1a" stroke-width="1.3" />
<line x1="479.80" y1="296.75" x2="488.80" y2="296.75" stroke="#1a1a1a" stroke-width="1.3" />
<rect x="475.50" y="303.00" width="17.60" height="105.90" fill="#8aabd4" stroke="#111" stroke-width="1.55"/>
<line x1="484.30" y1="408.90" x2="484.30" y2="412.90" stroke="#1a1a1a" stroke-width="1.4" />
<text x="484.30" y="424.80" font-size="10.0" font-weight="bold" font-style="normal" text-anchor="middle" fill="#1a1a1a" stroke="#1a1a1a" >200</text>
<text transform="translate(484.30,437.30) scale(0.85,1)" font-size="8.6" font-style="italic" text-anchor="middle" fill="#2a2a2a" stroke="#2a2a2a">32</text>
<line x1="512.40" y1="271.75" x2="512.40" y2="264.50" stroke="#1a1a1a" stroke-width="1.3" />
<line x1="507.90" y1="264.50" x2="516.90" y2="264.50" stroke="#1a1a1a" stroke-width="1.3" />
<rect x="503.60" y="272.25" width="17.60" height="136.65" fill="#aee0ad" stroke="#111" stroke-width="1.55"/>
<line x1="512.40" y1="408.90" x2="512.40" y2="412.90" stroke="#1a1a1a" stroke-width="1.4" />
<text x="512.40" y="424.80" font-size="10.0" font-weight="bold" font-style="normal" text-anchor="middle" fill="#1a1a1a" stroke="#1a1a1a" >50</text>
<text transform="translate(512.40,437.30) scale(0.85,1)" font-size="8.6" font-style="italic" text-anchor="middle" fill="#2a2a2a" stroke="#2a2a2a">5</text>
<line x1="540.50" y1="269.25" x2="540.50" y2="262.50" stroke="#1a1a1a" stroke-width="1.3" />
<line x1="536.00" y1="262.50" x2="545.00" y2="262.50" stroke="#1a1a1a" stroke-width="1.3" />
<rect x="531.70" y="269.75" width="17.60" height="139.15" fill="#aee0ad" stroke="#111" stroke-width="1.55"/>
<line x1="540.50" y1="408.90" x2="540.50" y2="412.90" stroke="#1a1a1a" stroke-width="1.4" />
<text x="540.50" y="424.80" font-size="10.0" font-weight="bold" font-style="normal" text-anchor="middle" fill="#1a1a1a" stroke="#1a1a1a" >100</text>
<text transform="translate(540.50,437.30) scale(0.85,1)" font-size="8.6" font-style="italic" text-anchor="middle" fill="#2a2a2a" stroke="#2a2a2a">10</text>
<line x1="568.60" y1="301.25" x2="568.60" y2="295.50" stroke="#1a1a1a" stroke-width="1.3" />
<line x1="564.10" y1="295.50" x2="573.10" y2="295.50" stroke="#1a1a1a" stroke-width="1.3" />
<rect x="559.80" y="301.75" width="17.60" height="107.15" fill="#aee0ad" stroke="#111" stroke-width="1.55"/>
<line x1="568.60" y1="408.90" x2="568.60" y2="412.90" stroke="#1a1a1a" stroke-width="1.4" />
<text x="568.60" y="424.80" font-size="10.0" font-weight="bold" font-style="normal" text-anchor="middle" fill="#1a1a1a" stroke="#1a1a1a" >200</text>
<text transform="translate(568.60,437.30) scale(0.85,1)" font-size="8.6" font-style="italic" text-anchor="middle" fill="#2a2a2a" stroke="#2a2a2a">20</text>
<line x1="596.70" y1="338.60" x2="596.70" y2="335.40" stroke="#1a1a1a" stroke-width="1.3" />
<line x1="592.20" y1="335.40" x2="601.20" y2="335.40" stroke="#1a1a1a" stroke-width="1.3" />
<rect x="587.90" y="339.10" width="17.60" height="69.80" fill="#d8b2b0" stroke="#111" stroke-width="1.55"/>
<line x1="596.70" y1="408.90" x2="596.70" y2="412.90" stroke="#1a1a1a" stroke-width="1.4" />
<text x="596.70" y="424.80" font-size="10.0" font-weight="bold" font-style="normal" text-anchor="middle" fill="#1a1a1a" stroke="#1a1a1a" >0.3</text>
<text transform="translate(596.70,437.30) scale(0.85,1)" font-size="8.6" font-style="italic" text-anchor="middle" fill="#2a2a2a" stroke="#2a2a2a">2.5</text>
<line x1="624.80" y1="371.00" x2="624.80" y2="362.30" stroke="#1a1a1a" stroke-width="1.3" />
<line x1="620.30" y1="362.30" x2="629.30" y2="362.30" stroke="#1a1a1a" stroke-width="1.3" />
<rect x="616.00" y="371.50" width="17.60" height="37.40" fill="#d8b2b0" stroke="#111" stroke-width="1.55"/>
<line x1="624.80" y1="408.90" x2="624.80" y2="412.90" stroke="#1a1a1a" stroke-width="1.4" />
<text x="624.80" y="424.80" font-size="10.0" font-weight="bold" font-style="normal" text-anchor="middle" fill="#1a1a1a" stroke="#1a1a1a" >0.6</text>
<text transform="translate(624.80,437.30) scale(0.85,1)" font-size="8.6" font-style="italic" text-anchor="middle" fill="#2a2a2a" stroke="#2a2a2a">5</text>
<line x1="381.40" y1="317.40" x2="637.80" y2="317.40" stroke="#111" stroke-width="1.9" stroke-dasharray="4.1,3.32"/>
<line x1="381.40" y1="371.40" x2="637.80" y2="371.40" stroke="#111" stroke-width="1.9" stroke-dasharray="4.1,3.32"/>
<text x="643.00" y="318.70" font-size="8.8" font-weight="normal" font-style="normal" text-anchor="start" fill="#222" stroke="#222" >-1 log</text>
<text x="642.50" y="373.00" font-size="8.8" font-weight="normal" font-style="normal" text-anchor="start" fill="#222" stroke="#222" >-2 log</text>
<text x="509.50" y="454.90" font-size="11.3" font-weight="bold" font-style="normal" text-anchor="middle" fill="#1a1a1a" stroke="#1a1a1a" >Compound (µM)</text>
<text transform="translate(354.2,327.2) rotate(-90) scale(1,0.9)" font-size="13" font-weight="bold" text-anchor="middle" fill="#1a1a1a" stroke="#1a1a1a">CFU/ml</text>
<rect x="595.00" y="250.20" width="9.80" height="7.40" fill="#8aabd4" stroke="#111" stroke-width="1.4"/>
<text x="611.80" y="257.50" font-size="10.0" font-weight="normal" font-style="normal" text-anchor="start" fill="#1a1a1a" stroke="#1a1a1a" >BPD-9</text>
<rect x="595.00" y="264.35" width="9.80" height="7.40" fill="#aee0ad" stroke="#111" stroke-width="1.4"/>
<text x="611.80" y="271.65" font-size="10.0" font-weight="normal" font-style="normal" text-anchor="start" fill="#1a1a1a" stroke="#1a1a1a" >BPD-6</text>
<rect x="595.00" y="278.50" width="9.80" height="7.40" fill="#d8b2b0" stroke="#111" stroke-width="1.4"/>
<text x="611.80" y="285.80" font-size="10.0" font-weight="normal" font-style="normal" text-anchor="start" fill="#1a1a1a" stroke="#1a1a1a" >RIF</text>
</svg></body></html>
